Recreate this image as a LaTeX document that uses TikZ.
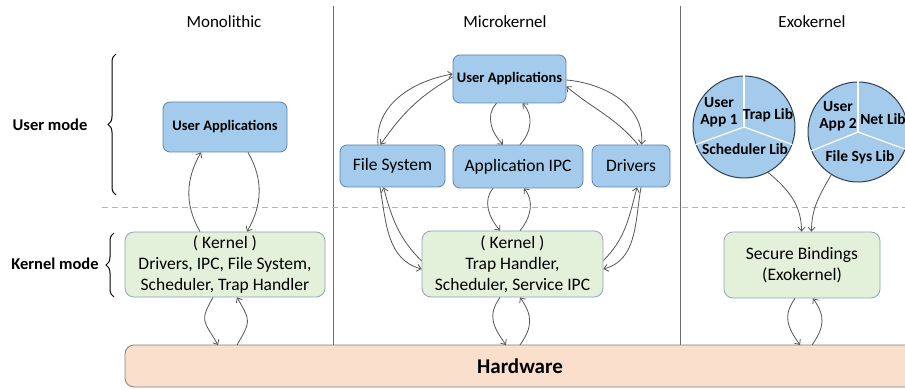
\documentclass[tikz,border=0pt]{standalone}
\usepackage{fontspec}
\setmainfont{Carlito}
\usetikzlibrary{arrows.meta,decorations.pathreplacing,calc}

\definecolor{appblue}{HTML}{A4CBEB}
\definecolor{appedge}{HTML}{5B86B0}
\definecolor{kerngreen}{HTML}{E3F0DA}
\definecolor{kernedge}{HTML}{8FA6B6}
\definecolor{hwpeach}{HTML}{FADFCD}
\definecolor{hwedge}{HTML}{7F7F7F}
\definecolor{linkgray}{HTML}{555555}
\definecolor{sepgray}{HTML}{6E6E6E}
\definecolor{dashgray}{HTML}{B4B4B4}
\definecolor{circleedge}{HTML}{2E3F55}

\tikzset{
  appbox/.style={draw=appedge, fill=appblue, rounded corners=7pt, line width=0.8pt,
    inner sep=0pt, align=center},
  kernbox/.style={draw=kernedge, fill=kerngreen, rounded corners=9pt, line width=0.8pt,
    inner sep=0pt, align=center, font=\fontsize{17.5}{21}\selectfont},
  hwbox/.style={draw=hwedge, fill=hwpeach, rounded corners=9pt, line width=0.8pt,
    inner sep=0pt, font=\fontsize{21}{24}\selectfont\bfseries},
  libcircle/.style={circle, draw=circleedge, fill=appblue, line width=1pt,
    minimum size=102pt, inner sep=0pt},
  libtext/.style={font=\fontsize{15.5}{17}\selectfont\bfseries, align=center, inner sep=0pt},
  title/.style={font=\fontsize{17}{20}\selectfont},
  modelabel/.style={font=\fontsize{16.5}{20}\selectfont\bfseries},
  link/.style={draw=linkgray, line width=0.8pt, -{Straight Barb[length=4pt,width=7pt]}},
  modebrace/.style={draw=black, line width=1pt, decorate, decoration={brace, amplitude=8pt}},
}

\begin{document}
\begin{tikzpicture}[x=1pt, y=1pt]
  \clip (0,0) rectangle (905,-390);
  \fill[white] (0,0) rectangle (905,-390);

  % column separators and user/kernel boundary
  \draw[sepgray, line width=1pt] (333,-6) -- (333,-345);
  \draw[sepgray, line width=1pt] (680,-6) -- (680,-345);
  \draw[dashgray, line width=0.9pt, dash pattern=on 6pt off 4pt] (102,-207) -- (905,-207);

  % column titles
  \node[title] (tmono)  at (224,-22) {Monolithic};
  \node[title] (tmicro) at (505,-22) {Microkernel};
  \node[title] (texo)   at (812,-22) {Exokernel};

  % mode labels with braces
  \node[modelabel] (umode) at (50,-125) {User mode};
  \node[modelabel] (kmode) at (55,-264) {Kernel mode};
  \draw[modebrace] (116,-195) -- (116,-54);
  \draw[modebrace] (114,-297) -- (114,-233);

  % hardware
  \node[hwbox, minimum width=790pt, minimum height=42pt] (hw) at (520,-366) {Hardware};

  % ---------- Monolithic ----------
  \node[appbox, minimum width=124pt, minimum height=50pt,
        font=\fontsize{14.5}{17}\selectfont\bfseries] (mua) at (225,-127) {User Applications};
  \node[kernbox, minimum width=200pt, minimum height=65pt] (mk) at (225,-264.5)
        {( Kernel )\\Drivers, IPC, File System,\\Scheduler, Trap Handler};

  \draw[link] ([xshift=-25pt]mk.north) to[out=120,in=240] ([xshift=-24pt]mua.south);
  \draw[link] ([xshift=23pt]mua.south) to[out=-60,in=60] ([xshift=22pt]mk.north);
  \draw[link] ([xshift=-12pt]mk.south) to[out=-120,in=120,looseness=1.5] (218,-345);
  \draw[link] (237,-345) to[out=60,in=-60,looseness=1.5] ([xshift=12pt]mk.south);

  % ---------- Microkernel ----------
  \node[appbox, minimum width=113pt, minimum height=48pt,
        font=\fontsize{14.5}{17}\selectfont\bfseries] (cua) at (509.5,-79) {User Applications};
  \node[appbox, minimum width=105pt, minimum height=42pt,
        font=\fontsize{17.5}{20}\selectfont] (fs) at (392.5,-166) {File System};
  \node[appbox, minimum width=130pt, minimum height=43pt,
        font=\fontsize{17.5}{20}\selectfont] (ipc) at (518,-166.5) {Application IPC};
  \node[appbox, minimum width=78pt, minimum height=42pt,
        font=\fontsize{17.5}{20}\selectfont] (drv) at (631,-166) {Drivers};
  \node[kernbox, minimum width=181pt, minimum height=66pt] (ck) at (512.5,-264)
        {( Kernel )\\Trap Handler,\\Scheduler, Service IPC};

  % user applications <-> file system
  \draw[link] ([xshift=-14.5pt]fs.north) to[out=95,in=190] ([yshift=5pt]cua.west);
  \draw[link] ([yshift=2pt]cua.west) to[out=210,in=55] ([xshift=-12pt]fs.north);
  % user applications <-> application IPC
  \draw[link] ([xshift=-13pt]cua.south) to[out=-135,in=135] ([xshift=-15pt]ipc.north);
  \draw[link] ([xshift=2pt]ipc.north) to[out=45,in=-45] ([xshift=13pt]cua.south);
  % user applications <-> drivers
  \draw[link] ([yshift=-1pt]cua.east) to[out=-5,in=85] ([xshift=10.5pt]drv.north);
  \draw[link] ([xshift=7pt]drv.north) to[out=130,in=-40] ([yshift=-7.5pt]cua.east);
  % file system <-> kernel
  \draw[link] ([xshift=-12.5pt]fs.south) to[out=-80,in=165] ([yshift=-5pt]ck.west);
  \draw[link] ([yshift=3pt]ck.west) to[out=135,in=-75] ([xshift=-9pt]fs.south);
  % application IPC <-> kernel
  \draw[link] ([xshift=-25pt]ipc.south) to[out=-130,in=130] ([xshift=-12.5pt]ck.north);
  \draw[link] ([xshift=7.5pt]ck.north) to[out=50,in=-50] ([xshift=6pt]ipc.south);
  % drivers <-> kernel
  \draw[link] ([xshift=10pt]drv.south) to[out=-100,in=15] ([yshift=-5pt]ck.east);
  \draw[link] ([yshift=3.5pt]ck.east) to[out=45,in=-105] ([xshift=6pt]drv.south);
  % kernel <-> hardware
  \draw[link] ([xshift=-12.5pt]ck.south) to[out=-125,in=125,looseness=1.2] (506,-345);
  \draw[link] (520,-345) to[out=55,in=-55,looseness=1.2] ([xshift=7.5pt]ck.south);

  % ---------- Exokernel ----------
  \node[libcircle] (c1) at (744,-127) {};
  \node[libcircle, minimum size=100pt] (c2) at (858,-132) {};
  \draw[white, line width=1.2pt] (c1.center) -- (c1.90);
  \draw[white, line width=1.2pt] (c1.center) -- (c1.200);
  \draw[white, line width=1.2pt] (c1.center) -- (c1.-20);
  \draw[white, line width=1.2pt] (c2.center) -- (c2.90);
  \draw[white, line width=1.2pt] (c2.center) -- (c2.202);
  \draw[white, line width=1.2pt] (c2.center) -- (c2.-20);
  \node[libtext] (u1) at (719,-112) {User\\App 1};
  \node[libtext] (t1) at (768,-115) {Trap Lib};
  \node[libtext] (s1) at (745,-149) {Scheduler Lib};
  \node[libtext] (u2) at (838,-116) {User\\App 2};
  \node[libtext] (n2) at (883,-119) {Net Lib};
  \node[libtext] (f2) at (860,-157) {File Sys Lib};

  \node[kernbox, minimum width=156pt, minimum height=66pt] (sb) at (802,-265)
        {Secure Bindings\\(Exokernel)};

  \draw[link] (c1.-62) to[out=-40,in=90] ([xshift=-0.5pt]sb.north);
  \draw[link] (c2.-122) to[out=-120,in=90] ([xshift=9.5pt]sb.north);
  \draw[link] ([xshift=-7pt]sb.south) to[out=-125,in=125,looseness=1.2] (800,-345);
  \draw[link] (812,-345) to[out=55,in=-55,looseness=1.2] ([xshift=11pt]sb.south);
\end{tikzpicture}
\end{document}
